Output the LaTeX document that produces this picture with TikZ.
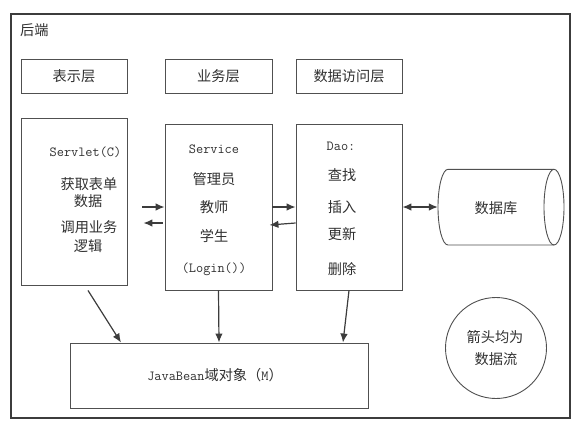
\documentclass[tikz,border=0pt]{standalone}
\usepackage{fontspec}
\newfontfamily\cjk{Noto Sans CJK SC}
\usetikzlibrary{calc,arrows.meta}
\definecolor{ln}{HTML}{505050}
\definecolor{dk}{HTML}{3C3C3C}
\definecolor{tx}{HTML}{303030}
\tikzset{
  box/.style={draw=ln, line width=0.9pt, rectangle, inner sep=0pt},
  lbl/.style={text=tx, inner sep=0pt, font=\cjk\fontsize{14.2}{16}\selectfont},
  lat/.style={text=tx, inner sep=0pt, font=\ttfamily\fontsize{13.9}{16}\selectfont},
  arr/.style={draw=dk, line width=1.2pt, -{Latex[length=9pt,width=7.5pt]}},
  darr/.style={draw=dk, line width=1.2pt, {Latex[length=9pt,width=7.5pt]}-{Latex[length=9pt,width=7.5pt]}},
}
\begin{document}
\begin{tikzpicture}[x=1pt,y=-1pt]
\useasboundingbox (0,0) rectangle (579,429);
% outer frame
\node[draw=dk, line width=2pt, minimum width=559pt, minimum height=404pt, inner sep=0pt] (frame) at (290.5,216) {};
\node[lbl, anchor=west] (hd) at (20,30) {后端};
% header boxes
\node[box, minimum width=106pt, minimum height=34pt] (p1) at (74,76) {};
\node[lbl] (p1t) at (74,76.5) {表示层};
\node[box, minimum width=107pt, minimum height=34pt] (p2) at (218.5,76) {};
\node[lbl] (p2t) at (218.5,76.5) {业务层};
\node[box, minimum width=106pt, minimum height=34pt] (p3) at (349,76) {};
\node[lbl] (p3t) at (349,76.5) {数据访问层};
% main boxes
\node[box, minimum width=106pt, minimum height=167pt] (servlet) at (74,201.5) {};
\node[lat] (s1) at (85.5,152) {Servlet(C)};
\node[lbl] (s2) at (89,184) {获取表单};
\node[lbl] (s3) at (88,201) {数据};
\node[lbl] (s4) at (89,227) {调用业务};
\node[lbl] (s5) at (88,246) {逻辑};
\node[box, minimum width=107pt, minimum height=166pt] (service) at (218.5,207) {};
\node[lat] (v1) at (214,149) {Service};
\node[lbl] (v2) at (214,179) {管理员};
\node[lbl] (v3) at (214,207) {教师};
\node[lbl] (v4) at (214,236) {学生};
\node[lat] (v5) at (214,269) {(Login())};
\node[box, minimum width=106pt, minimum height=166pt] (dao) at (349,207) {};
\node[lat] (d1) at (341,146) {Dao:};
\node[lbl] (d2) at (342,175) {查找};
\node[lbl] (d3) at (342,207) {插入};
\node[lbl] (d4) at (342,234) {更新};
\node[lbl] (d5) at (342,269) {删除};
% database cylinder
\node[minimum width=126pt, minimum height=75.7pt, inner sep=0pt] (db) at (501,207) {};
\draw[draw=ln, line width=0.9pt] (448,169.3) -- (554,169.3)
  (554,245) -- (448,245)
  (448,169.3) arc[start angle=90, end angle=270, x radius=10pt, y radius=37.85pt];
\draw[draw=ln, line width=0.9pt] (554,207.15) ellipse [x radius=10pt, y radius=37.85pt];
\node[lbl] (dbt) at (496,208) {数据库};
% bean
\node[box, minimum width=298pt, minimum height=65pt] (bean) at (219,375.5) {};
\node[text=tx, inner sep=0pt] (beant) at (215,375) {{\ttfamily\fontsize{13.9}{16}\selectfont JavaBean}{\cjk\fontsize{14.2}{16}\selectfont 域对象（}{\ttfamily\fontsize{13.9}{16}\selectfont M}{\cjk\fontsize{14.2}{16}\selectfont ）}};
% note circle
\node[draw=ln, line width=0.9pt, circle, minimum size=101pt, inner sep=0pt] (note) at (496,348) {};
\node[lbl] (n1) at (495,337) {箭头均为};
\node[lbl] (n2) at (496,359) {数据流};
% arrows
\draw[arr] ($(servlet.east)+(15,5.5)$) -- (service.west);
\draw[arr] ($(service.west)+(-2,16)$) -- ($(servlet.east)+(16,21.5)$);
\draw[arr] (service.east) -- (dao.west);
\draw[arr] ($(dao.west)+(0,16)$) -- ($(service.east)+(-3,18)$);
\draw[darr] (dao.east) -- (db.west);
\draw[arr] ($(servlet.south)+(14,5)$) -- ($(bean.north)+(-98,0)$);
\draw[arr] (service.south) -- (bean.north);
\draw[arr] (dao.south) -- ($(bean.north)+(124,0)$);
\end{tikzpicture}
\end{document}
